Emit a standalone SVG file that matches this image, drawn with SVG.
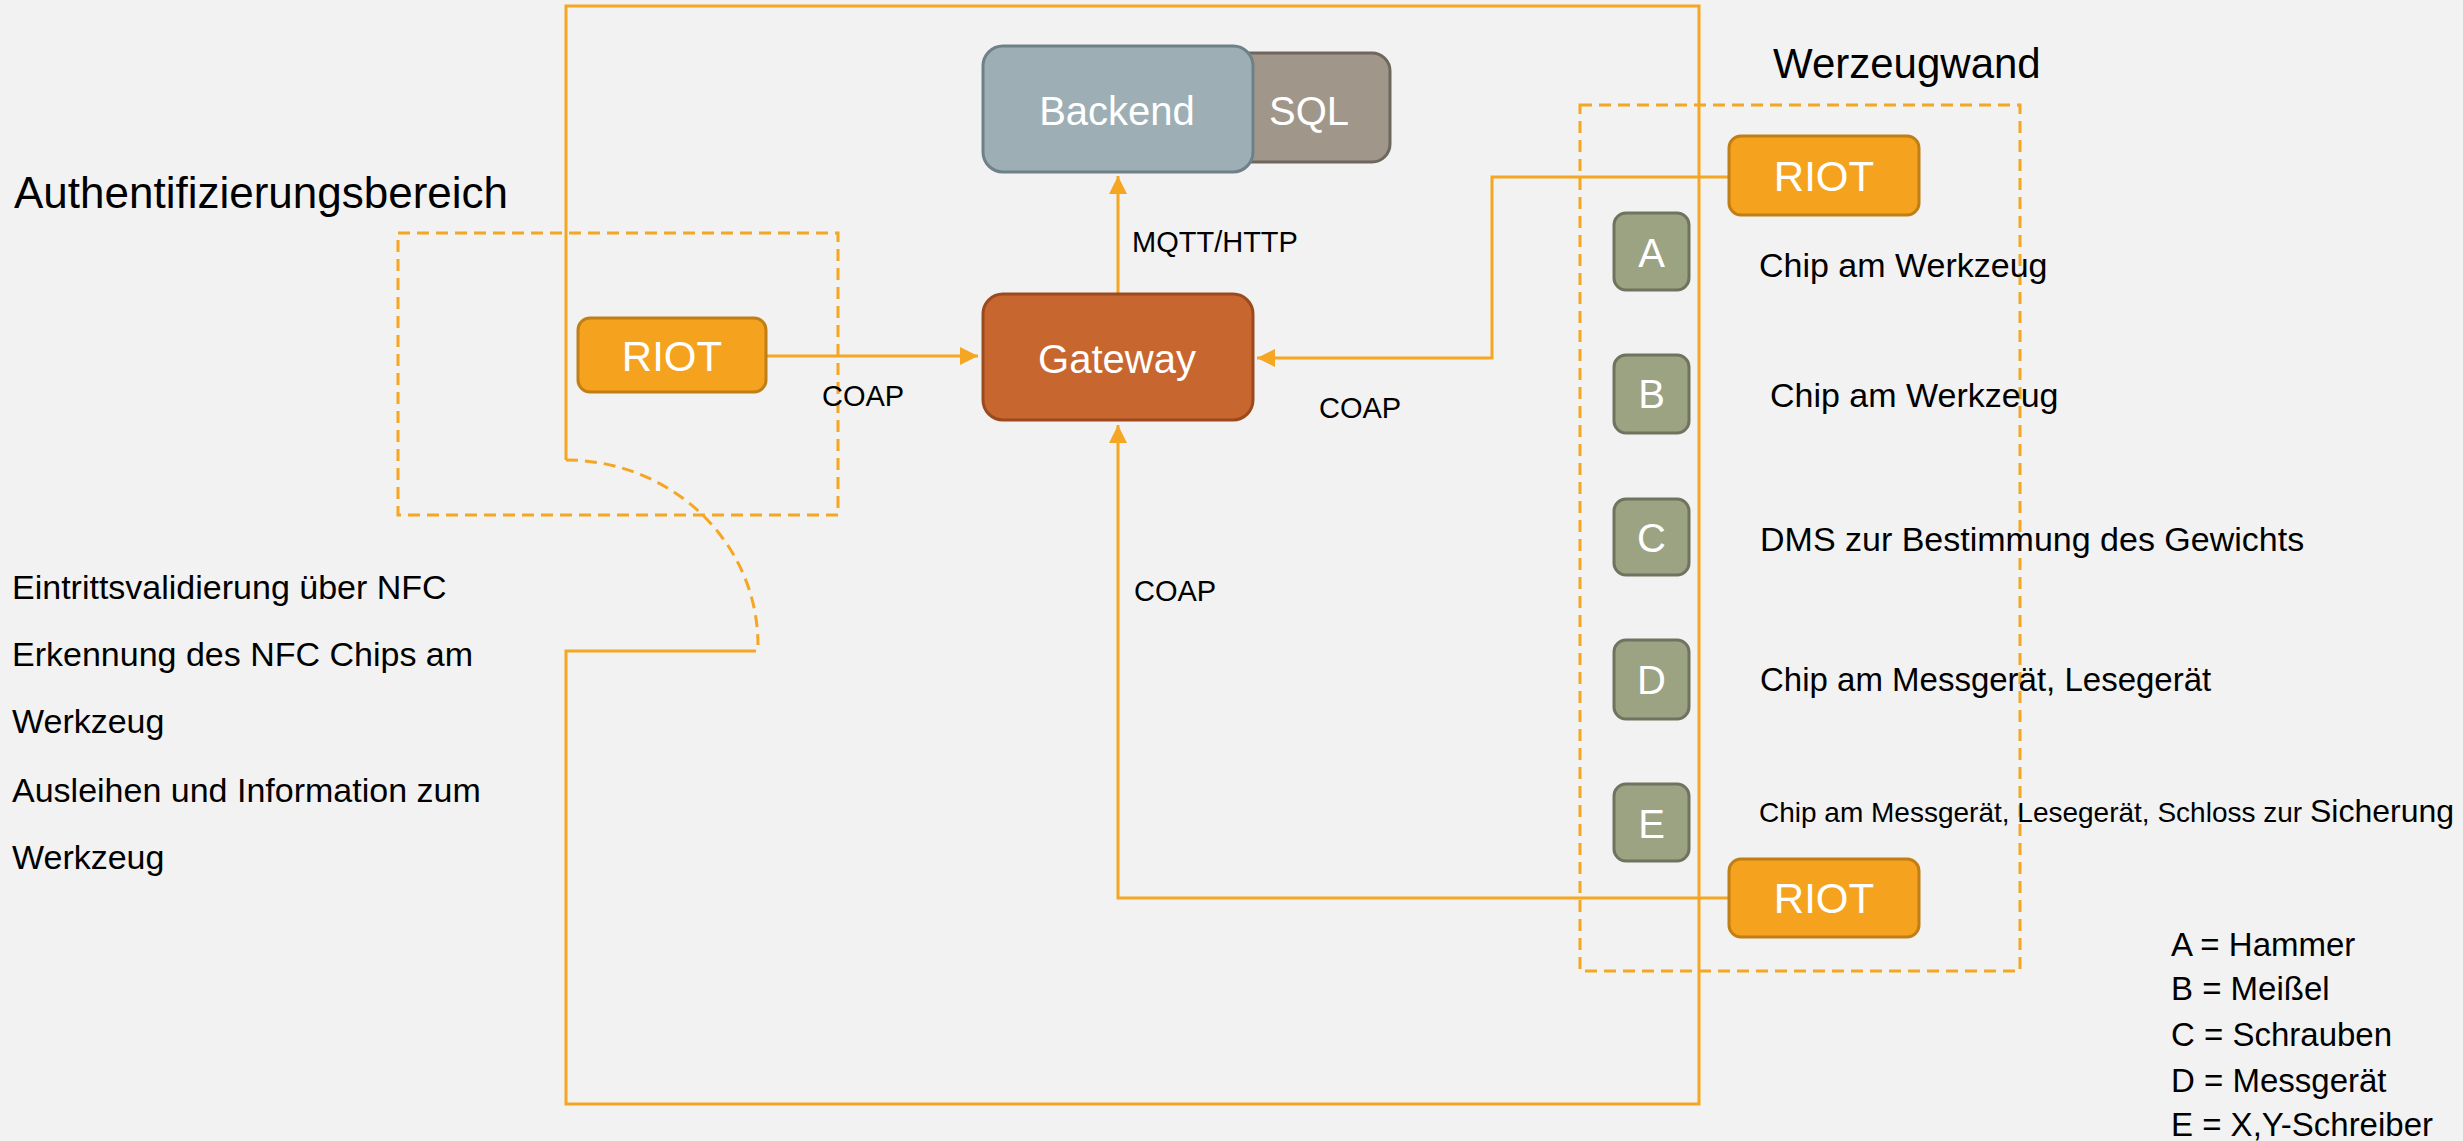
<svg xmlns="http://www.w3.org/2000/svg" width="2463" height="1141" viewBox="0 0 2463 1141">
<defs>
<style>
text{font-family:"Liberation Sans",Arial,sans-serif;fill:#000}
.w{fill:#fff}
.ln{fill:none;stroke:#F5A623;stroke-width:3}
.dash{fill:none;stroke:#F5A623;stroke-width:3;stroke-dasharray:12 7}
.riot{fill:#F5A31F;stroke:#C07E14;stroke-width:3}
.let{fill:#9BA383;stroke:#70745F;stroke-width:3}
</style>
<marker id="ah" viewBox="0 0 10 10" refX="10" refY="5" markerWidth="6" markerHeight="6" orient="auto" markerUnits="strokeWidth">
<path d="M0,0 L10,5 L0,10 z" fill="#F5A623"/>
</marker>
</defs>
<rect x="0" y="0" width="2463" height="1141" fill="#F2F2F2"/>

<g id="room">
<path class="ln" d="M566,460 V6 H1699 V1104 H566 V651 H756"/>
<path class="dash" d="M566,460 A192,185 0 0 1 758,645"/>
</g>

<g id="auth-area">
<rect class="dash" x="398" y="233" width="440" height="282"/>
<text x="14" y="208" font-size="44">Authentifizierungsbereich</text>
</g>

<g id="werkzeugwand">
<rect class="dash" x="1580" y="105" width="440" height="866"/>
<text x="1773" y="78" font-size="42">Werzeugwand</text>
</g>

<g id="connectors">
<path class="ln" d="M766,356 H978" marker-end="url(#ah)"/>
<path class="ln" d="M1728,177 H1492 V358 H1257" marker-end="url(#ah)"/>
<path class="ln" d="M1728,898 H1118 V425" marker-end="url(#ah)"/>
<path class="ln" d="M1118,294 V176" marker-end="url(#ah)"/>
<text x="822" y="406" font-size="29">COAP</text>
<text x="1319" y="418" font-size="29">COAP</text>
<text x="1134" y="601" font-size="29">COAP</text>
<text x="1132" y="252" font-size="29">MQTT/HTTP</text>
</g>

<g id="sql">
<rect x="1220" y="53" width="170" height="109" rx="18" fill="#A0978A" stroke="#6E675D" stroke-width="3"/>
<text class="w" x="1309" y="125" font-size="40" text-anchor="middle">SQL</text>
</g>
<g id="backend">
<rect x="983" y="46" width="270" height="126" rx="20" fill="#9DAFB4" stroke="#6E8188" stroke-width="3"/>
<text class="w" x="1117" y="125" font-size="40" text-anchor="middle">Backend</text>
</g>
<g id="gateway">
<rect x="983" y="294" width="270" height="126" rx="20" fill="#C8662F" stroke="#9B4A1E" stroke-width="3"/>
<text class="w" x="1117" y="373" font-size="40" text-anchor="middle">Gateway</text>
</g>
<g id="riot-auth">
<rect class="riot" x="578" y="318" width="188" height="74" rx="12"/>
<text class="w" x="672" y="371" font-size="42" text-anchor="middle">RIOT</text>
</g>
<g id="riot-top">
<rect class="riot" x="1729" y="136" width="190" height="79" rx="12"/>
<text class="w" x="1824" y="191" font-size="42" text-anchor="middle">RIOT</text>
</g>
<g id="riot-bottom">
<rect class="riot" x="1729" y="859" width="190" height="78" rx="12"/>
<text class="w" x="1824" y="913" font-size="42" text-anchor="middle">RIOT</text>
</g>

<g id="tool-a">
<rect class="let" x="1614" y="213" width="75" height="77" rx="12"/>
<text class="w" x="1651.5" y="267" font-size="40" text-anchor="middle">A</text>
<text x="1759" y="277" font-size="34">Chip am Werkzeug</text>
</g>
<g id="tool-b">
<rect class="let" x="1614" y="355" width="75" height="78" rx="12"/>
<text class="w" x="1651.5" y="408" font-size="40" text-anchor="middle">B</text>
<text x="1770" y="407" font-size="34">Chip am Werkzeug</text>
</g>
<g id="tool-c">
<rect class="let" x="1614" y="499" width="75" height="76" rx="12"/>
<text class="w" x="1651.5" y="552" font-size="40" text-anchor="middle">C</text>
<text x="1760" y="551" font-size="34">DMS zur Bestimmung des Gewichts</text>
</g>
<g id="tool-d">
<rect class="let" x="1614" y="640" width="75" height="79" rx="12"/>
<text class="w" x="1651.5" y="694" font-size="40" text-anchor="middle">D</text>
<text x="1760" y="691" font-size="33">Chip am Messgerät, Lesegerät</text>
</g>
<g id="tool-e">
<rect class="let" x="1614" y="784" width="75" height="77" rx="12"/>
<text class="w" x="1651.5" y="838" font-size="40" text-anchor="middle">E</text>
<text x="1759" y="822" font-size="28">Chip am Messgerät, Lesegerät, Schloss zur <tspan font-size="32">Sicherung</tspan></text>
</g>

<g id="auth-notes" font-size="34">
<text x="12" y="599">Eintrittsvalidierung über NFC</text>
<text x="12" y="666">Erkennung des NFC Chips am</text>
<text x="12" y="733">Werkzeug</text>
<text x="12" y="802">Ausleihen und Information zum</text>
<text x="12" y="869">Werkzeug</text>
</g>

<g id="legend" font-size="33">
<text x="2171" y="956">A = Hammer</text>
<text x="2171" y="1000">B = Meißel</text>
<text x="2171" y="1046">C = Schrauben</text>
<text x="2171" y="1092">D = Messgerät</text>
<text x="2171" y="1136">E = X,Y-Schreiber</text>
</g>
</svg>
